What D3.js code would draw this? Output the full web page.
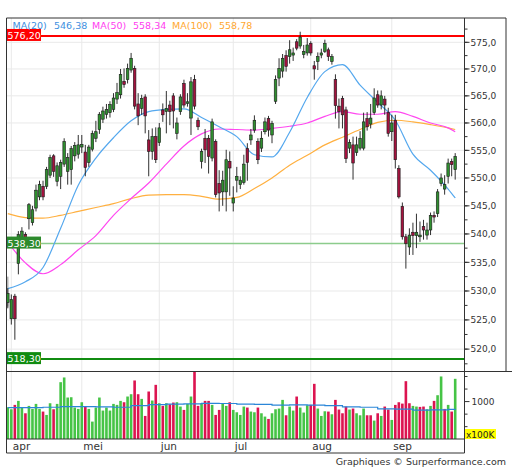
<!DOCTYPE html>
<html>
<head>
<meta charset="utf-8">
<script src="https://cdn.jsdelivr.net/npm/d3@7/dist/d3.min.js"></script>
<style>
  body { margin: 0; background: #fff; }
  svg { display: block; font-family: "DejaVu Sans", Verdana, sans-serif; }
</style>
</head>
<body>
<div id="chart"></div>
<script>
// daily candles (index 0 = first bar, late March)
const open = [528.0,525.2,529.1,534.8,539.3,539.9,542.7,542.0,544.6,546.6,
  548.5,548.5,550.5,554.0,549.4,550.3,552.5,551.2,551.5,554.0,
  554.3,555.6,554.7,552.8,555.2,557.2,558.8,560.7,561.6,561.9,
  562.5,564.4,565.2,567.7,568.0,569.8,570.1,563.5,562.7,564.8,
  556.9,554.8,557.5,556.4,562.4,562.1,563.3,565.0,558.1,562.1,
  567.3,563.6,560.9,568.0,560.5,553.0,557.2,557.2,553.6,556.6,
  549.0,547.5,547.5,553.0,545.5,549.6,548.8,549.2,555.3,556.9,
  558.7,556.6,555.4,558.4,560.8,557.8,564.0,568.3,569.6,572.5,
  572.3,572.6,575.1,574.3,572.7,573.0,574.8,570.6,571.4,572.6,
  573.3,573.6,571.4,568.0,563.1,564.5,562.4,555.4,556.0,554.6,
  555.4,555.4,560.8,559.8,561.9,565.2,563.3,564.4,561.9,558.4,
  560.5,551.7,544.9,539.5,537.7,540.3,539.7,539.5,541.3,539.8,
  540.7,543.3,543.6,549.0,548.0,550.3,553.0,551.5];
const high = [530.5,529.4,529.5,540.5,541.2,540.3,545.5,545.0,548.8,549.5,
  549.5,552.0,554.2,554.3,552.8,553.3,557.2,554.5,555.8,556.5,
  557.8,557.8,556.0,556.0,558.6,560.4,562.0,563.0,563.5,564.0,
  565.5,567.4,570.0,570.1,571.0,573.0,570.6,565.5,565.2,565.3,
  558.7,559.0,559.2,560.0,563.6,565.9,564.1,565.5,561.0,565.3,
  568.0,565.5,568.5,568.9,561.0,555.3,558.9,557.8,560.8,557.0,
  551.4,551.3,555.1,554.8,548.5,552.0,550.3,554.2,556.3,558.9,
  561.4,557.2,558.5,561.0,561.3,560.4,568.8,572.0,572.8,573.5,
  575.4,574.0,575.6,577.0,574.5,575.8,575.2,571.5,573.1,573.8,
  575.5,574.0,572.8,569.0,564.5,565.0,563.0,557.0,557.5,557.5,
  558.5,561.9,562.0,563.5,566.4,566.0,566.0,565.0,562.8,561.5,
  561.5,552.3,545.6,540.0,541.0,542.0,543.6,542.2,542.5,542.0,
  543.8,544.0,548.0,550.8,550.5,553.5,553.5,554.5];
const low = [527.0,524.2,521.6,532.9,538.5,538.8,540.8,541.5,544.0,546.0,
  546.0,548.0,550.0,550.2,548.5,548.0,552.0,548.8,548.8,553.0,
  553.5,554.5,550.3,552.0,554.8,556.5,558.0,560.0,560.8,561.0,
  562.0,563.5,564.5,566.5,567.3,569.3,562.5,559.6,561.5,558.1,
  550.3,553.3,552.7,555.8,560.2,558.1,559.6,559.0,557.0,561.5,
  562.8,563.0,557.8,562.5,558.7,551.7,552.7,550.8,553.0,546.5,
  544.0,545.0,544.0,546.8,544.0,547.4,548.0,548.8,549.5,556.0,
  558.2,552.5,554.7,557.9,557.5,556.3,563.5,566.8,568.4,569.5,
  571.0,571.5,573.5,573.8,572.0,572.5,572.5,568.0,569.8,572.0,
  573.0,571.5,570.8,560.8,559.0,559.0,552.7,554.5,549.7,554.0,
  555.0,555.0,558.6,559.0,561.5,562.8,562.5,561.5,557.5,556.7,
  551.7,546.3,539.0,533.9,536.3,536.3,537.5,538.6,539.0,539.0,
  539.8,542.0,543.0,548.5,547.0,549.0,550.3,549.7];
const close = [529.6,528.5,525.2,539.9,540.5,539.3,545.2,544.3,547.8,548.8,
  546.6,551.5,553.7,551.2,552.2,552.8,556.6,553.7,555.3,555.9,
  556.0,556.1,551.9,555.6,558.1,558.4,561.6,562.2,562.5,563.4,
  564.6,565.6,569.0,567.1,570.1,572.0,563.1,561.3,564.5,561.3,
  554.8,557.5,553.3,559.1,561.5,562.7,562.1,562.2,560.0,564.8,
  563.3,563.9,567.6,563.1,559.3,554.8,555.1,553.9,560.2,547.0,
  547.3,549.6,553.3,551.8,546.4,550.3,549.6,552.5,552.8,557.8,
  560.5,553.3,557.2,560.2,558.7,559.9,568.0,570.1,572.0,570.5,
  573.6,573.0,573.9,576.0,573.3,574.5,573.0,570.0,572.3,573.0,
  574.8,572.3,572.3,563.2,562.1,561.5,553.5,556.4,552.7,556.0,
  557.2,560.2,559.3,560.9,564.6,563.3,565.0,563.3,558.1,560.0,
  553.3,546.6,539.5,538.3,539.8,539.7,540.3,539.8,540.7,540.7,
  543.3,543.0,547.5,550.0,548.8,552.7,552.4,553.9];

// volume (x100K) and its colour flag (1 = up day)
const volume = [887,847,934,1014,881,767,914,854,954,854,
  801,734,967,847,954,1387,1481,1081,1087,881,
  854,987,901,854,601,881,1081,821,881,821,
  954,934,1014,987,1101,1147,1421,1147,1054,714,
  1201,1021,1334,967,914,967,947,981,987,901,
  834,954,1101,1601,914,967,1014,1014,934,734,
  834,954,914,987,834,787,734,901,881,801,
  787,881,767,701,654,767,847,861,1034,727,
  901,821,1101,881,781,927,934,1354,861,714,
  807,801,747,1034,841,767,901,841,861,767,
  727,861,727,727,621,767,714,901,841,634,
  934,987,960,1407,967,914,901,894,901,847,
  914,1014,1127,1501,854,934,801,1454];
const volUp = [1,1,0,1,1,0,1,1,1,1, 0,1,1,0,1,1,1,1,1,1, 1,1,0,1,1,1,1,1,1,1,
  1,1,1,0,1,1,0,0,1,0, 0,1,0,1,0,1,0,0,1,1, 0,1,1,0,0,1,0,0,1,0,
  0,1,1,0,1,1,1,1,0,1, 1,0,1,1,0,1,1,1,1,0, 1,1,0,1,1,1,0,0,1,1,
  1,0,1,0,0,0,0,1,0,1, 1,1,0,0,1,0,1,0,0,1, 0,0,0,0,0,1,1,0,0,1,
  1,0,1,1,0,1,0,1];

// moving averages, read every 5 bars
const maIdx = [0,5,10,15,20,25,30,35,40,45,50,55,60,65,70,75,80,85,90,95,100,105,110,115,120,125,127];
const ma20 = [530.4,531.6,534.1,541.0,548.7,553.6,557.3,560.4,562.1,562.5,562.6,561.0,559.3,557.5,
  554.2,553.8,558.3,564.7,569.5,570.8,567.0,563.8,560.5,554.3,551.4,548.0,546.4];
const ma50 = [538.5,534.9,533.0,534.6,537.2,539.7,543.3,546.3,549.1,552.5,555.8,558.0,558.9,558.8,
  558.7,559.0,559.4,560.0,561.2,562.1,561.6,561.6,562.1,561.2,560.0,559.1,558.4];
const ma100 = [543.6,542.9,542.8,543.3,544.0,544.7,545.4,546.3,546.9,547.0,547.0,546.7,546.2,546.5,
  548.1,550.0,552.3,554.1,556.0,557.4,558.8,560.1,560.5,560.2,559.7,559.1,558.8];
const volMa = [881,881,887,901,901,894,887,920,940,950,955,965,962,950,945,930,933,930,920,895,
  887,855,850,830,835,845,850];

const legend = [
  { name: "MA(20)", value: "546,38", color: "#3d8fe0" },
  { name: "MA(50)", value: "558,34", color: "#ff3cf0" },
  { name: "MA(100)", value: "558,78", color: "#ffa830" }
];
const levels = [
  { value: 576.20, label: "576,20", line: "#ff0000", box: "#ff0000", width: 2 },
  { value: 538.30, label: "538,30", line: "#8ccc8c", box: "#2c8a2c", width: 1.5 },
  { value: 518.30, label: "518,30", line: "#118c11", box: "#118c11", width: 2 }
];
const monthIdx = [1, 21, 43, 64, 86, 109];
const monthNames = ["apr", "mei", "jun", "jul", "aug", "sep"];
const priceTicks = d3.range(520, 576, 5);
const priceMinor = d3.range(517.5, 579, 2.5);
const volTicks = [500, 750, 1000, 1250, 1500];

const W = 512, H = 470;
const L = 6.5, R = 464.5, T = 18, B = 371.5, VB = 439, XB = 453, OUT = 506;

const svg = d3.select("#chart").append("svg").attr("width", W).attr("height", H);

const x = d3.scaleBand().domain(d3.range(close.length)).range([L, 456.5]).paddingInner(0.26);
const cx = i => x(i) + x.bandwidth() / 2;
const y = d3.scaleLog().domain([516.2, 579.6]).range([B, T]);
const yv = d3.scaleLinear().domain([254, 1600]).range([VB, B]);

const defs = svg.append("defs");
defs.append("clipPath").attr("id", "main").append("rect").attr("x", L).attr("y", T).attr("width", R - L).attr("height", B - T);
defs.append("clipPath").attr("id", "vol").append("rect").attr("x", L).attr("y", B).attr("width", R - L).attr("height", VB - B);

// grid
const grid = svg.append("g").attr("stroke", "#e9e9e9").attr("stroke-width", 1);
grid.selectAll(".hg").data(priceTicks).enter().append("line")
  .attr("x1", L).attr("x2", R).attr("y1", d => y(d)).attr("y2", d => y(d));
grid.selectAll(".vg").data(monthIdx).enter().append("line")
  .attr("x1", d => cx(d)).attr("x2", d => cx(d)).attr("y1", T).attr("y2", VB);

const main = svg.append("g").attr("clip-path", "url(#main)");

// support / resistance levels
main.selectAll(".lvl").data(levels).enter().append("line")
  .attr("x1", L).attr("x2", R).attr("y1", d => y(d.value)).attr("y2", d => y(d.value))
  .attr("stroke", d => d.line).attr("stroke-width", d => d.width);

// grey marker at the left edge
main.append("rect").attr("x", L - 1.5).attr("width", 3.5)
  .attr("y", y(532.5)).attr("height", y(527.3) - y(532.5)).attr("fill", "#b4b4b4");

// moving averages
const maLine = vals => d3.line().x((d, k) => cx(maIdx[k])).y(d => y(d)).curve(d3.curveMonotoneX)(vals);
[[ma100, "#ffb040"], [ma50, "#ff48f0"], [ma20, "#55a8ee"]].forEach(([vals, col]) => {
  main.append("path").attr("d", maLine(vals)).attr("fill", "none").attr("stroke", col).attr("stroke-width", 1.2);
});

// candles
const idx = d3.range(close.length);
main.selectAll(".wick").data(idx).enter().append("line")
  .attr("x1", i => cx(i)).attr("x2", i => cx(i))
  .attr("y1", i => y(high[i])).attr("y2", i => y(low[i]))
  .attr("stroke", "#1a1a1a").attr("stroke-width", 0.9);
main.selectAll(".body").data(idx).enter().append("rect")
  .attr("x", i => x(i)).attr("width", x.bandwidth())
  .attr("y", i => y(Math.max(open[i], close[i])))
  .attr("height", i => Math.max(1, Math.abs(y(open[i]) - y(close[i]))))
  .attr("fill", i => close[i] >= open[i] ? "#2f8f2f" : "#a3123e")
  .attr("stroke", "#1a1a1a").attr("stroke-width", 0.6);

// level labels
const lab = svg.append("g");
lab.selectAll("rect").data(levels).enter().append("rect")
  .attr("x", L).attr("y", d => y(d.value) - 7).attr("width", 34.5).attr("height", 12)
  .attr("fill", d => d.box);
lab.selectAll("text").data(levels).enter().append("text")
  .attr("x", L + 1).attr("y", d => y(d.value) + 3.2)
  .attr("fill", "#fff").style("font-size", "9.5px").text(d => d.label);

// volume panel
const vol = svg.append("g").attr("clip-path", "url(#vol)");
vol.selectAll(".vb").data(idx).enter().append("rect")
  .attr("x", i => x(i)).attr("width", x.bandwidth())
  .attr("y", i => yv(volume[i])).attr("height", i => VB - yv(volume[i]))
  .attr("fill", i => volUp[i] ? "#46c446" : "#dc1450");
vol.append("path")
  .attr("d", d3.line().x((d, k) => cx(maIdx[k])).y(d => yv(d)).curve(d3.curveStepAfter)(volMa))
  .attr("fill", "none").attr("stroke", "#2b86d8").attr("stroke-width", 1.2);

// right price axis
const axis = svg.append("g").attr("stroke", "#333");
axis.selectAll(".mt").data(priceMinor).enter().append("line")
  .attr("x1", R).attr("x2", R + 3).attr("y1", d => y(d)).attr("y2", d => y(d));
axis.selectAll(".Mt").data(priceTicks).enter().append("line")
  .attr("x1", R).attr("x2", R + 5).attr("y1", d => y(d)).attr("y2", d => y(d));
axis.selectAll(".vt").data(volTicks).enter().append("line")
  .attr("x1", R).attr("x2", d => d === 1000 ? R + 5 : R + 3).attr("y1", d => yv(d)).attr("y2", d => yv(d));

const fmt = d => d3.format(".1f")(d).replace(".", ",");
svg.append("g").selectAll("text").data(priceTicks).enter().append("text")
  .attr("x", R + 6).attr("y", d => y(d) + 3.2)
  .attr("fill", "#333").style("font-size", "9px").text(fmt);
svg.append("text").attr("x", R + 7).attr("y", yv(1000) + 3.2)
  .attr("fill", "#333").style("font-size", "9px").text("1000");

svg.append("rect").attr("x", R + 0.5).attr("y", 429).attr("width", 31).attr("height", 10).attr("fill", "#ffff00");
svg.append("text").attr("x", R + 1.5).attr("y", 437.5).attr("fill", "#222").style("font-size", "9px").text("x100K");

// frame
const frame = svg.append("g").attr("stroke", "#333").attr("stroke-width", 1).attr("fill", "none");
frame.append("line").attr("x1", L).attr("x2", L).attr("y1", T).attr("y2", XB);
frame.append("line").attr("x1", L).attr("x2", OUT).attr("y1", T).attr("y2", T);
frame.append("line").attr("x1", OUT).attr("x2", OUT).attr("y1", T).attr("y2", B);
frame.append("line").attr("x1", L).attr("x2", W).attr("y1", B).attr("y2", B);
frame.append("line").attr("x1", R).attr("x2", R).attr("y1", T).attr("y2", XB);
frame.append("line").attr("x1", L).attr("x2", R).attr("y1", VB).attr("y2", VB);
frame.append("line").attr("x1", L).attr("x2", R).attr("y1", XB).attr("y2", XB);

// month labels
svg.append("g").selectAll("text").data(monthIdx).enter().append("text")
  .attr("x", d => cx(d) + 1.5).attr("y", 450)
  .attr("fill", "#333").style("font-size", "10.5px").text((d, k) => monthNames[k]);

// legend
let lx = 12.5;
const lg = svg.append("g").style("font-size", "9.5px");
const legX = [[12.5, 54], [92, 133], [172, 219]];
legend.forEach((d, k) => {
  lg.append("text").attr("x", legX[k][0]).attr("y", 29).attr("fill", d.color).text(d.name);
  lg.append("text").attr("x", legX[k][1]).attr("y", 29).attr("fill", d.color).text(d.value);
});

svg.append("text").attr("x", 506).attr("y", 465).attr("text-anchor", "end")
  .attr("fill", "#333").style("font-size", "9.5px").text("Graphiques © Surperformance.com");
</script>
</body>
</html>
